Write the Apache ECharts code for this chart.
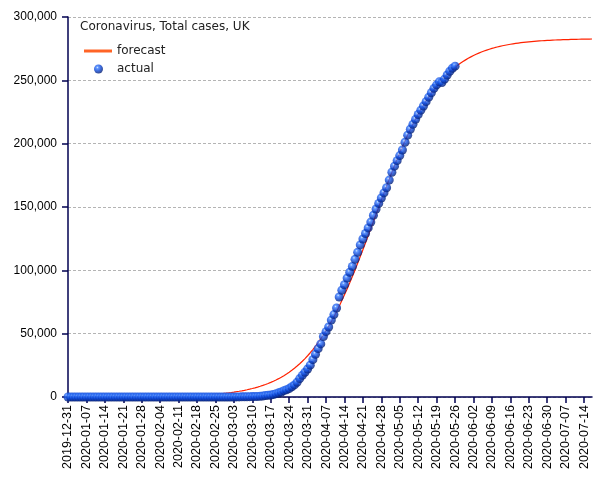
<!DOCTYPE html>
<html><head><meta charset="utf-8">
<script src="https://cdn.jsdelivr.net/npm/echarts@6/dist/echarts.min.js"></script>
<style>html,body{margin:0;padding:0;background:#fff}#c{width:605px;height:480px}</style>
</head><body><div id="c"></div>
<script>
const startDate = '2019-12-31';
const dayCount = 200;
const tickLabels = ['2019-12-31','2020-01-07','2020-01-14','2020-01-21','2020-01-28','2020-02-04','2020-02-11','2020-02-18','2020-02-25','2020-03-03','2020-03-10','2020-03-17','2020-03-24','2020-03-31','2020-04-07','2020-04-14','2020-04-21','2020-04-28','2020-05-05','2020-05-12','2020-05-19','2020-05-26','2020-06-02','2020-06-09','2020-06-16','2020-06-23','2020-06-30','2020-07-07','2020-07-14'];
const yTicks = [0, 50000, 100000, 150000, 200000, 250000, 300000];

const forecast = [
25,28,30,32,35,38,41,44,48,52,
56,61,66,72,78,84,91,99,107,116,
126,136,147,160,173,187,203,220,238,258,
280,303,328,355,385,416,451,489,529,573,
621,672,728,789,854,925,1002,1085,1175,1273,
1378,1492,1616,1749,1894,2051,2220,2402,2601,2816,
3048,3299,3570,3863,4180,4523,4894,5294,5725,6193,
6695,7238,7824,8458,9138,9874,10663,11518,12434,13419,
14483,15618,16845,18164,19571,21072,22694,24418,26257,28226,
30329,32562,34943,37469,40142,42976,45971,49141,52475,55973,
59667,63510,67542,71736,76116,80650,85344,90185,95158,100283,
105518,110850,116317,121825,127420,133020,138671,144329,149981,155597,
161180,166696,172131,177474,182710,187840,192818,197667,202360,206887,
211257,215455,219482,223345,227018,230531,233865,237018,240034,242856,
245532,248051,250442,252679,254771,256736,258580,260306,261923,263430,
264842,266155,267377,268519,269578,270565,271482,272334,273126,273862,
274543,275174,275761,276305,276808,277273,277706,278106,278477,278818,
279137,279429,279700,279951,280184,280398,280595,280779,280949,281105,
281251,281385,281508,281623,281727,281825,281915,281999,282075,282145,
282211,282272,282328,282379,282427,282472,282511,282548,282584,282616
];

const actual = [
0,0,0,0,0,0,0,0,0,0,
0,0,0,0,0,0,0,0,0,0,
0,0,0,0,0,0,0,0,0,0,
0,0,
2,2,2,2,2,
3,3,3,3,
8,8,8,
9,9,9,9,9,9,9,9,9,9,9,9,9,
13,13,16,20,
23,36,40,51,85,115,163,206,273,321,
373,456,590,798,1140,1372,1543,1950,2626,3269,
3983,5018,5683,6650,8077,9529,11658,14543,17089,19522,
22141,
25150,29474,33718,38168,41903,47806,51608,55242,60733,65077,
70272,78991,84279,88621,93873,98476,103093,108692,114217,120067,
124743,129044,133495,138078,143464,148377,152840,157149,161145,165221,
171253,177454,182260,186599,190584,194990,201101,206715,211364,215260,
219183,223060,226463,229705,233151,236711,240161,243695,246406,248818,
248293,250908,254195,257154,259559,261184
];

const categories = [];
(function(){
  const d0 = new Date(startDate + 'T00:00:00Z');
  for (let i = 0; i < dayCount; i++) {
    const d = new Date(d0.getTime() + i * 86400000);
    categories.push(d.toISOString().slice(0, 10));
  }
})();
const isTick = (i) => tickLabels.indexOf(categories[i]) >= 0;

const axisColor = '#000050';
const ballColor = {
  type: 'radial', x: 0.38, y: 0.33, r: 0.7,
  colorStops: [
    {offset: 0, color: '#c8e4ff'},
    {offset: 0.2, color: '#3a7cff'},
    {offset: 0.55, color: '#0c46d4'},
    {offset: 1, color: '#031a6a'}
  ]
};
const chart = echarts.init(document.getElementById('c'), null, {renderer: 'canvas'});
chart.setOption({
  animation: false,
  backgroundColor: '#fff',
  title: {
    text: 'Coronavirus, Total cases, UK',
    left: 80, top: 21, padding: 0,
    textStyle: {fontFamily: 'DejaVu Sans', fontSize: 12, fontWeight: 'normal', color: '#222'}
  },
  legend: [
    {
      data: [{name: 'forecast', icon: 'rect', itemStyle: {color: '#ff6426'}}],
      left: 84, top: 45, itemWidth: 28, itemHeight: 3, padding: 0,
      textStyle: {fontFamily: 'DejaVu Sans', fontSize: 12, color: '#222'}
    },
    {
      data: [{name: 'actual', icon: 'circle', itemStyle: {color: ballColor}}],
      left: 94, top: 63, itemWidth: 9, itemHeight: 9, padding: 0,
      textStyle: {fontFamily: 'DejaVu Sans', fontSize: 12, color: '#222', padding: [0, 0, 0, 9]}
    }
  ],
  grid: {left: 68, right: 13, top: 17, bottom: 83, containLabel: false},
  xAxis: {
    type: 'category',
    data: categories,
    boundaryGap: false,
    axisLine: {show: true, lineStyle: {color: axisColor, width: 1.5}},
    axisTick: {show: true, length: 6, interval: (i) => isTick(i), lineStyle: {color: axisColor, width: 1.5}},
    axisLabel: {
      interval: (i) => isTick(i),
      rotate: 90, margin: 8,
      fontFamily: 'Liberation Sans', fontSize: 12.5, color: '#000'
    },
    splitLine: {show: false}
  },
  yAxis: {
    type: 'value',
    min: yTicks[0], max: yTicks[yTicks.length - 1], interval: yTicks[1] - yTicks[0],
    axisLine: {show: true, lineStyle: {color: axisColor, width: 1.5}},
    axisTick: {show: true, length: 6, lineStyle: {color: axisColor, width: 1.5}},
    axisLabel: {
      margin: 11,
      fontFamily: 'Liberation Sans', fontSize: 12, color: '#000',
      formatter: (v) => v.toLocaleString('en-US')
    },
    splitLine: {show: true, lineStyle: {color: '#b4b4b4', type: [3, 2], width: 1}}
  },
  series: [
    {
      name: 'forecast', type: 'line', data: forecast,
      symbol: 'none', z: 2,
      lineStyle: {color: '#ff2200', width: 1.2},
      itemStyle: {color: '#ff6426'}
    },
    {
      name: 'actual', type: 'scatter', data: actual,
      symbol: 'circle', symbolSize: 9, z: 3,
      itemStyle: {color: ballColor}
    }
  ]
});
</script>
</body></html>
